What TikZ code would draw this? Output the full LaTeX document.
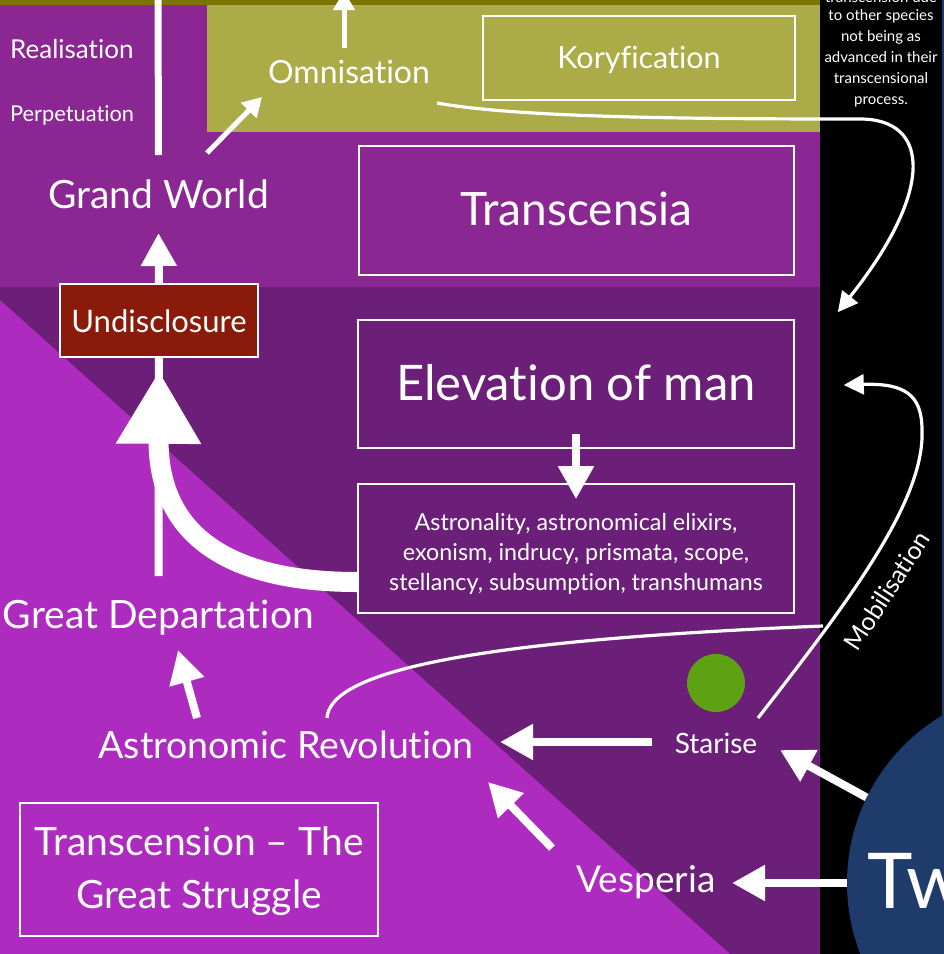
\documentclass[tikz,border=0pt]{standalone}
\usepackage{fontspec}
\setmainfont{Lato}[Ligatures={TeX,NoCommon}]
\usetikzlibrary{arrows.meta,calc}
\definecolor{midpurple}{HTML}{8B2793}
\definecolor{darkpurple}{HTML}{6B1F78}
\definecolor{lightmag}{HTML}{AD2BBE}
\definecolor{olivebg}{HTML}{ABAB48}
\definecolor{darkolive}{HTML}{7A7400}
\definecolor{undred}{HTML}{8A1A0A}
\definecolor{greendot}{HTML}{5EA113}
\definecolor{navyc}{HTML}{1F3B6B}
\newcommand\fsz[2]{\fontsize{#1pt}{#2pt}\selectfont}
\begin{document}
\begin{tikzpicture}[x=1pt,y=-1pt,
  txt/.style={text=white, inner sep=0pt, anchor=base},
  box/.style={draw=white, line width=1.6pt, inner sep=0pt, text=white},
  arr/.style={draw=white, line width=8pt, -{Triangle[length=33pt,width=34pt]}},
  midarr/.style={draw=white, line width=5pt, -{Triangle[length=19pt,width=21pt]}},
  thinline/.style={draw=white, line width=3.2pt},
  thinarr/.style={thinline, -{Triangle[length=20pt,width=20pt]}},
  bigarr/.style={draw=white, line width=20pt, -{Triangle[length=73pt,width=80pt]}},
]
\useasboundingbox (0,0) rectangle (944,954);
\clip (0,0) rectangle (944,954);
% backgrounds
\fill[midpurple] (0,0) rectangle (820,287);
\fill[darkolive] (0,0) rectangle (820,5);
\fill[olivebg] (207,5) rectangle (820,132);
\fill[darkpurple] (0,287) rectangle (820,954);
\fill[lightmag] (0,300) -- (0,954) -- (730,954) -- cycle;
\fill[black] (820,0) rectangle (944,954);
\fill[navyc] (942,0) rectangle (944,954);
\fill[greendot] (716,683) circle (29pt);
% nodes
\node[circle, fill=navyc, minimum size=390pt, inner sep=0pt] (twin) at (1042,883) {};
\node[txt, anchor=base west, font=\fsz{77}{90}] (tw) at (867,908) {Tw};
\node[txt, anchor=base west, font=\fsz{26}{30}] (real) at (10,58) {Realisation};
\node[txt, anchor=base west, font=\fsz{21.8}{26}] (perp) at (10,121) {Perpetuation};
\node[txt, font=\fsz{39}{45}] (gw) at (158.5,208) {Grand World};
\node[txt, font=\fsz{32}{38}] (omn) at (349,83) {Omnisation};
\node[box, minimum width=312pt, minimum height=84pt, text height=20pt, text depth=0pt, font=\fsz{30.5}{36}] (kory) at (639,58) {Koryfication};
\node[box, minimum width=435pt, minimum height=129pt, text height=29pt, text depth=0pt, font=\fsz{46}{54}] (transc) at (576.5,210.5) {Transcensia};
\node[box, fill=undred, minimum width=198pt, minimum height=73pt, text height=23pt, text depth=0pt, font=\fsz{31}{36}] (und) at (159,320.5) {Undisclosure};
\node[box, minimum width=436pt, minimum height=128pt, text height=32pt, text depth=0pt, font=\fsz{49}{58}] (elev) at (576,384) {Elevation of man};
\node[box, minimum width=436pt, minimum height=129pt, font=\fsz{23.3}{30}] (astr) at (576,548.5) {\raisebox{0pt}[0pt][37pt]{\begin{tabular}[t]{@{}c@{}}Astronality, astronomical elixirs,\\exonism, indrucy, prismata, scope,\\stellancy, subsumption, transhumans\end{tabular}}};
\node[txt, font=\fsz{39}{45}] (gd) at (158.5,628) {Great Departation};
\node[txt, font=\fsz{37.5}{43}] (ar) at (286,758) {Astronomic Revolution};
\node[txt, font=\fsz{28}{32}] (star) at (716,753) {Starise};
\node[txt, font=\fsz{37}{43}] (vesp) at (646,892) {Vesperia};
\node[box, minimum width=358pt, minimum height=133pt, font=\fsz{39}{53}] (tgs) at (199,869.5) {\raisebox{0pt}[0pt][29pt]{\begin{tabular}[t]{@{}c@{}}Transcension – The\\Great Struggle\end{tabular}}};
\node[txt, anchor=base, font=\fsz{15}{21}] (note) at (881,2.7) {\begin{tabular}[t]{@{}c@{}}transcension due\\[-3pt]to other species\\not being as\\advanced in their\\transcensional\\process.\end{tabular}};
\node[txt, anchor=center, rotate=57, font=\fsz{25}{29}] (mob) at (887,591) {Mobilisation};
% connectors
\coordinate (topend) at (158,-2);
\draw[white, line width=7pt] ([shift={(0,-53)}]gw.base) -- (topend);
\coordinate (omntop) at (344,-9);
\draw[midarr] ([shift={(-5,-35)}]omn.base) -- (omntop);
\draw[midarr] ([shift={(48.5,-55)}]gw.base) -- ([shift={(-87,14)}]omn.base);
\draw[arr] (und.north) -- ([shift={(0,25)}]gw.base);
\draw[white, line width=8pt] ([shift={(0,-52)}]gd.base) -- (und.south);
\draw[bigarr] ([yshift=-33.5pt]astr.west) .. controls (215,582) and (158,525) .. ([yshift=-13pt]und.south);
\draw[arr] ([shift={(0,-15)}]elev.south) -- ([shift={(0,16)}]astr.north);
\draw[arr] ([shift={(-89,-40)}]ar.base) -- ([shift={(19.5,22)}]gd.base);
\draw[arr] ([shift={(-64,-11)}]star.base) -- ([shift={(214,-16)}]ar.base);
\draw[arr] (twin.154) -- ([shift={(64,-3)}]star.base);
\draw[arr] (twin.west) -- ([shift={(86,-9)}]vesp.base);
\draw[arr] ([shift={(-94,-44)}]vesp.base) -- ([shift={(202,24)}]ar.base);
\coordinate (mobjoin) at (823,626);
\draw[thinline] ([shift={(41,-40)}]ar.base) .. controls (330,670) and (480,640) .. (mobjoin);
\draw[thinarr] ([shift={(42,-35)}]star.base) .. controls (850,600) and (925,500) .. (922,430) .. controls (922,395) and (905,383) .. ([shift={(49,1)}]elev.east);
\draw[thinarr] ([shift={(88,20)}]omn.base) .. controls (520,118) and (700,119) .. (860,119) .. controls (930,119) and (935,190) .. ([shift={(43,-7)}]elev.north east);
\end{tikzpicture}
\end{document}
